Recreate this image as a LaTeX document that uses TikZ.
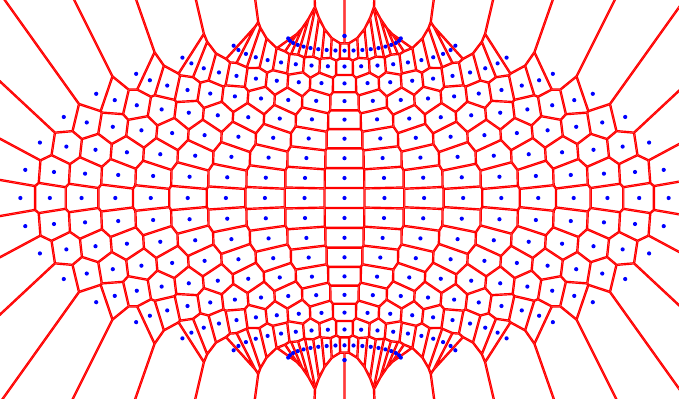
\documentclass[tikz,border=0pt]{standalone}

\tikzset{
  site/.style={fill=blue, draw=none},
}

\makeatletter
\newcommand\rawpdf[1]{\pgfsys@invoke{#1}}
\makeatother
% a length as an integer in hundredths (of a bp)
\newcommand\hn[1]{\number\numexpr\dimexpr#1\relax*100/65536\relax}

% sites: row, column, x, y (in bp, y upwards)
\newcount\nsites
\newcommand\addsite[4]{%
  \global\advance\nsites by 1
  \expandafter\xdef\csname sr\the\nsites\endcsname{#1}%
  \expandafter\xdef\csname sc\the\nsites\endcsname{#2}%
  \expandafter\xdef\csname sx\the\nsites\endcsname{#3}%
  \expandafter\xdef\csname sy\the\nsites\endcsname{#4}%
}
% column reach of a row: pole, near pole, other
\newcommand\colreach[1]{\ifnum#1=0 99\else\ifnum#1=18 99\else
  \ifnum#1<3 6\else\ifnum#1>15 6\else 3\fi\fi\fi\fi}

% half plane of the current site against the site at (\dxv,\dyv), length \pgfmathresult
\newcommand\vorohalf{%
  \edef\lensp{\number\dimexpr\pgfmathresult pt\relax}%
  \edef\lux{\the\dimexpr\dxv*58982400/\lensp\relax}%
  \edef\luy{\the\dimexpr\dyv*58982400/\lensp\relax}%
  \edef\mx{\the\dimexpr\ox+\dxv/2\relax}%
  \edef\my{\the\dimexpr\oy+\dyv/2\relax}%
  \edef\ax{\the\dimexpr\mx-\luy\relax}%
  \edef\ay{\the\dimexpr\my+\lux\relax}%
  \edef\bx{\the\dimexpr\mx+\luy\relax}%
  \edef\by{\the\dimexpr\my-\lux\relax}%
  \edef\ex{\the\dimexpr\bx-2\dimexpr\lux\relax\relax}%
  \edef\ey{\the\dimexpr\by-2\dimexpr\luy\relax\relax}%
  \edef\fx{\the\dimexpr\ax-2\dimexpr\lux\relax\relax}%
  \edef\fy{\the\dimexpr\ay-2\dimexpr\luy\relax\relax}%
  \rawpdf{\hn\ax\space\hn\ay\space m\space\hn\bx\space\hn\by\space l\space
    \hn\ex\space\hn\ey\space l\space\hn\fx\space\hn\fy\space l h W n}%
  \xdef\segs{\segs\space\hn\ax\space\hn\ay\space m\space\hn\bx\space\hn\by\space l}%
}

\begin{document}
\begin{tikzpicture}
  \useasboundingbox (0bp,0bp) rectangle (679bp,399bp);
  \clip (0bp,0bp) rectangle (679bp,399bp);

  % Hammer projection of a 10 x 20 degree grid
  \foreach \r in {1,...,17}{
    \foreach \c in {0,...,18}{
      \pgfmathsetmacro\lat{10*\r-90}
      \pgfmathsetmacro\lon{20*\c-180}
      \pgfmathsetmacro\den{sqrt(1+cos(\lat)*cos(\lon/2))}
      \pgfmathsetmacro\hx{344.5+324.14*cos(\lat)*sin(\lon/2)/\den}
      \pgfmathsetmacro\hy{201+162.07*sin(\lat)/\den}
      \addsite{\r}{\c}{\hx}{\hy}
    }
  }
  % poles
  \addsite{0}{9}{344.45}{38.93}
  \addsite{0}{9}{344.55}{38.93}
  \addsite{18}{9}{344.45}{363.07}
  \addsite{18}{9}{344.55}{363.07}
  \edef\N{\the\nsites}

  % cells: clip to the half planes, then stroke their borders
  \foreach \i in {1,...,\N}{
    \edef\ri{\csname sr\i\endcsname}
    \edef\ci{\csname sc\i\endcsname}
    \edef\ki{\colreach{\ri}}
    \edef\ox{\csname sx\i\endcsname pt}
    \edef\oy{\csname sy\i\endcsname pt}
    \global\let\segs\empty
    \begin{scope}
      \rawpdf{0.01 0 0 0.01 0 0 cm 1 0 0 RG 240 w}
      \foreach \j in {1,...,\N}{
        \ifnum\i=\j\else
        \edef\rj{\csname sr\j\endcsname}
        \ifnum\numexpr(\ri-\rj)*(\ri-\rj)\relax<5
          \edef\kj{\colreach{\rj}}
          \ifnum\ki>\kj \let\kk\ki \else \let\kk\kj \fi
          \ifnum\numexpr(\ci-\csname sc\j\endcsname)*(\ci-\csname sc\j\endcsname)\relax>\numexpr\kk*\kk\relax
          \else
            \edef\dxv{\the\dimexpr\csname sx\j\endcsname pt-\ox\relax}
            \edef\dyv{\the\dimexpr\csname sy\j\endcsname pt-\oy\relax}
            \ifdim\ifdim\dxv<0pt -\fi\dxv<105pt
              \pgfmathveclen{\dxv}{\dyv}
              \ifdim\pgfmathresult pt<150pt
                \vorohalf
              \fi
            \fi
          \fi
        \fi\fi
      }
      \rawpdf{\segs\space S}
    \end{scope}
  }

  % sites
  \foreach \i in {1,...,\N}{
    \edef\px{\csname sx\i\endcsname bp}
    \edef\py{\csname sy\i\endcsname bp}
    \fill[site] (\px,\py) circle (2.1bp);
  }
\end{tikzpicture}
\end{document}
